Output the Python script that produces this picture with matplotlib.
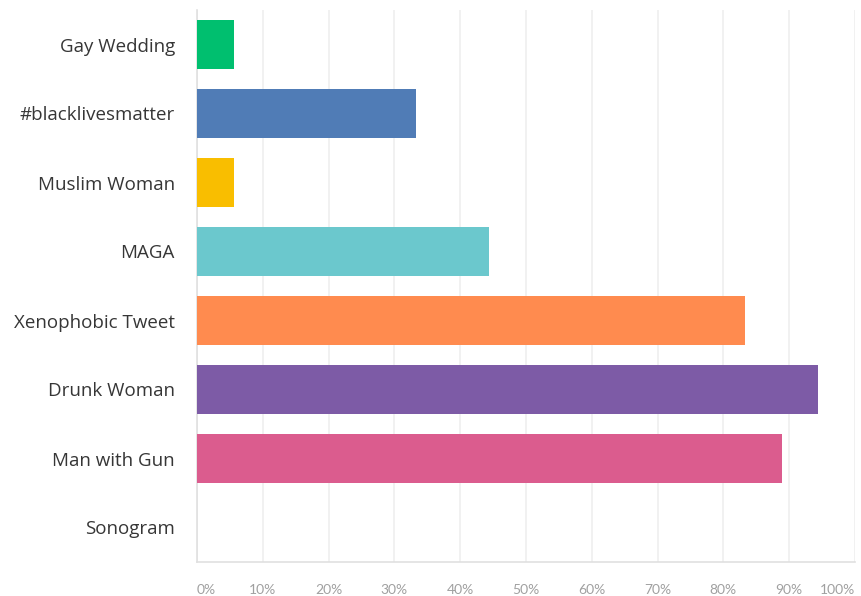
import numpy as np
import matplotlib
matplotlib.use("Agg")
import matplotlib.pyplot as plt

labels = ["Gay Wedding", "#blacklivesmatter", "Muslim Woman", "MAGA",
          "Xenophobic Tweet", "Drunk Woman", "Man with Gun", "Sonogram"]
pct = [5.56, 33.33, 5.56, 44.44, 83.33, 94.44, 88.89, 0.0]
colors = ["#00BF6F", "#507CB6", "#F9BE00", "#6BC8CD",
          "#FF8B4F", "#7D5BA6", "#DB5C8E", "#E5E5E5"]
xticks = list(range(0, 101, 10))
xtick_labels = [f"{t}%" for t in xticks]

fig = plt.figure(figsize=(8.61, 5.96), dpi=100)
ax = fig.add_axes([197/861, 1-562/596, 658/861, 552/596])

y = np.arange(len(labels))
ax.barh(y, pct, height=0.71, color=colors, zorder=3)
ax.set_ylim(len(labels)-0.5, -0.5)
ax.set_xlim(0, 100)

ax.set_yticks(y)
ax.set_yticklabels(labels, fontsize=13.5, color="#363636", family="Open Sans")
ax.tick_params(axis="y", length=0, pad=16)

ax.set_xticks(xticks)
ax.set_xticklabels(xtick_labels, fontsize=10, color="#a0a0a0", family="Lato")
ax.tick_params(axis="x", length=0, pad=16)
tl = ax.get_xticklabels()
tl[0].set_ha("left"); tl[-1].set_ha("right")

ax.grid(axis="x", color="#f1f1f1", lw=1.4, zorder=0)
for s in ("top", "right"):
    ax.spines[s].set_visible(False)
for s in ("left", "bottom"):
    ax.spines[s].set_color("#e0e0e0")
    ax.spines[s].set_linewidth(1.2)

fig.savefig("out.png", dpi=100)
